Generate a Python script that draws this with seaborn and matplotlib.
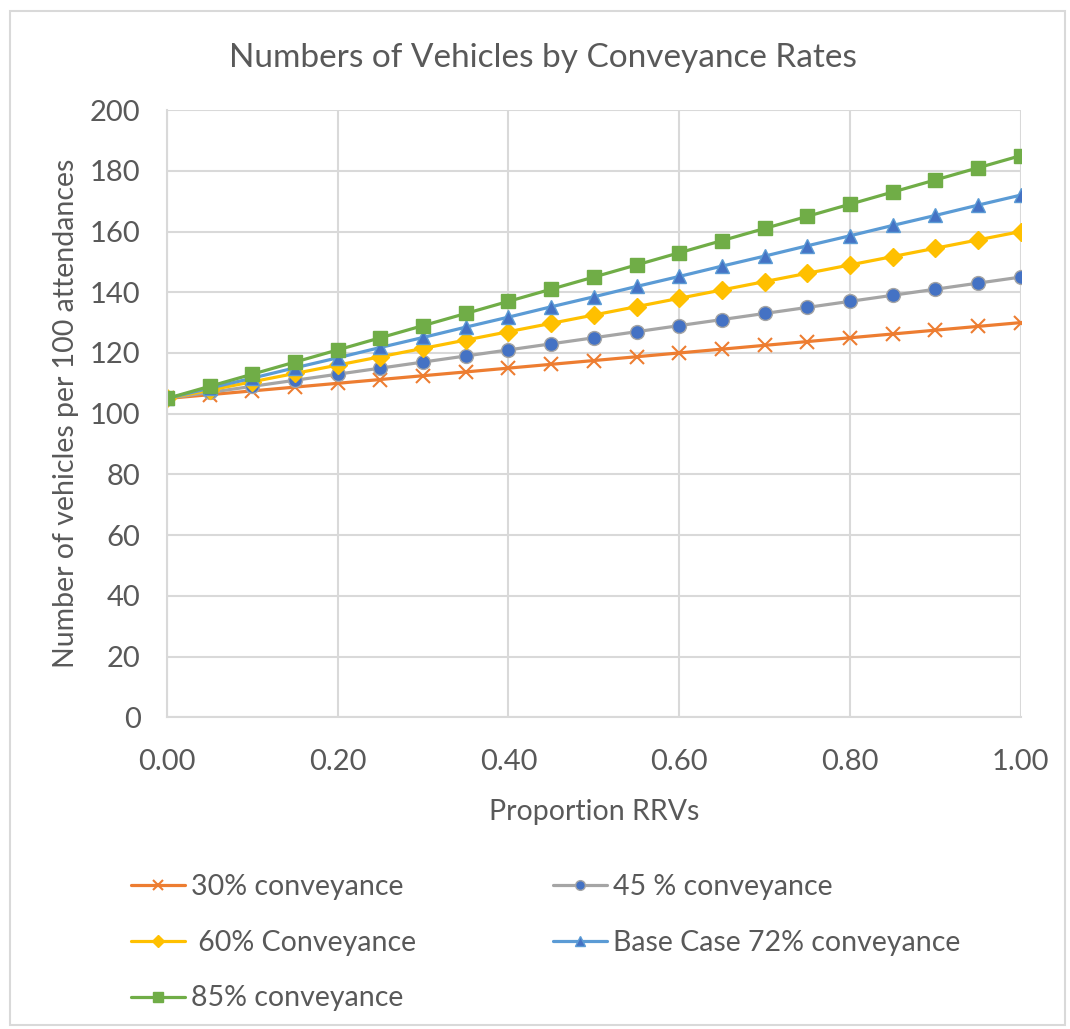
import matplotlib
matplotlib.use("Agg")
import matplotlib.pyplot as plt
import matplotlib.patches as mpatches
import seaborn as sns
import pandas as pd

# Proportion of rapid response vehicles (x axis)
proportion_rrvs = [0.00, 0.05, 0.10, 0.15, 0.20, 0.25, 0.30, 0.35, 0.40, 0.45, 0.50,
                   0.55, 0.60, 0.65, 0.70, 0.75, 0.80, 0.85, 0.90, 0.95, 1.00]

# Vehicles per 100 attendances for each conveyance rate
conv_30 = [105, 106.25, 107.5, 108.75, 110, 111.25, 112.5, 113.75, 115, 116.25, 117.5,
           118.75, 120, 121.25, 122.5, 123.75, 125, 126.25, 127.5, 128.75, 130]
conv_45 = [105, 107, 109, 111, 113, 115, 117, 119, 121, 123, 125,
           127, 129, 131, 133, 135, 137, 139, 141, 143, 145]
conv_60 = [105, 107.75, 110.5, 113.25, 116, 118.75, 121.5, 124.25, 127, 129.75, 132.5,
           135.25, 138, 140.75, 143.5, 146.25, 149, 151.75, 154.5, 157.25, 160]
conv_72 = [105, 108.4, 111.7, 115.1, 118.4, 121.8, 125.1, 128.5, 131.8, 135.2, 138.5,
           141.9, 145.2, 148.6, 151.9, 155.3, 158.6, 162.0, 165.3, 168.7, 172]
conv_85 = [105, 109, 113, 117, 121, 125, 129, 133, 137, 141, 145,
           149, 153, 157, 161, 165, 169, 173, 177, 181, 185]

series_names = ["30% conveyance", "45 % conveyance", " 60% Conveyance",
                "Base Case 72% conveyance", "85% conveyance"]
series_values = [conv_30, conv_45, conv_60, conv_72, conv_85]

y_ticks = [0, 20, 40, 60, 80, 100, 120, 140, 160, 180, 200]
x_ticks = [0.0, 0.2, 0.4, 0.6, 0.8, 1.0]

sns.set_style("white")
plt.rcParams["font.family"] = ["Lato", "DejaVu Sans"]

text_color = "#595959"
grid_color = "#D9D9D9"

# Line colour, marker, marker face, marker edge, marker size
styles = [
    ("#ED7D31", "x", "#ED7D31", "#ED7D31", 10),
    ("#A5A5A5", "o", "#4472C4", "#A5A5A5", 10),
    ("#FFC000", "D", "#FFC000", "#FFC000", 9),
    ("#5B9BD5", "^", "#4472C4", "#5B9BD5", 10),
    ("#70AD47", "s", "#70AD47", "#70AD47", 10),
]

df = pd.concat(
    [pd.DataFrame({"x": proportion_rrvs, "y": vals, "series": name})
     for name, vals in zip(series_names, series_values)],
    ignore_index=True,
)

fig = plt.figure(figsize=(10.70, 10.29), dpi=100)
ax = fig.add_axes([0.156, 0.303, 0.798, 0.590])

handles = {}
for name, (lc, mk, mfc, mec, ms) in zip(series_names, styles):
    sub = df[df["series"] == name]
    sns.lineplot(data=sub, x="x", y="y", ax=ax, color=lc, linewidth=2.3,
                 marker=mk, markersize=ms, markerfacecolor=mfc,
                 markeredgecolor=mec, markeredgewidth=1.5 if mk == "x" else 1.0,
                 label=name, legend=False)
    handles[name] = ax.lines[-1]

ax.set_xlim(0, 1.0)
ax.set_ylim(0, 200)
ax.set_xticks(x_ticks)
ax.set_xticklabels([f"{v:.2f}" for v in x_ticks])
ax.set_yticks(y_ticks)
ax.grid(True, color=grid_color, linewidth=1.5)
ax.set_axisbelow(True)
for side in ["top", "right"]:
    ax.spines[side].set_visible(False)
for side in ["left", "bottom"]:
    ax.spines[side].set_color(grid_color)
    ax.spines[side].set_linewidth(1.5)
ax.tick_params(axis="both", colors=text_color, labelsize=21, length=0)
ax.tick_params(axis="y", pad=19)
ax.tick_params(axis="x", pad=23)

ax.set_xlabel("Proportion RRVs", fontsize=20.5, color=text_color)
ax.set_ylabel("Number of vehicles per 100 attendances", fontsize=20.5,
              color=text_color)
ax.xaxis.set_label_coords(0.5, -0.134)
ax.yaxis.set_label_coords(-0.103, 0.5)

fig.text(0.507, 0.944, "Numbers of Vehicles by Conveyance Rates",
         ha="center", va="center", fontsize=24, color=text_color)

# Legend laid out row by row in two columns
order = [series_names[0], series_names[2], series_names[4],
         series_names[1], series_names[3]]
leg = fig.legend([handles[n] for n in order], order, ncol=2,
                 loc="upper left", bbox_to_anchor=(0.112, 0.162),
                 frameon=False, fontsize=20.5, handlelength=1.9,
                 handletextpad=0.2, columnspacing=4.8, labelspacing=1.05,
                 markerscale=0.7, borderaxespad=0)
for t in leg.get_texts():
    t.set_color(text_color)

# Light chart-area border
fig.patches.append(mpatches.Rectangle((0.009, 0.004), 0.986, 0.985,
                                      transform=fig.transFigure, fill=False,
                                      edgecolor="#D9D9D9", linewidth=1.5))

fig.savefig("out.png", dpi=100, facecolor="white")
